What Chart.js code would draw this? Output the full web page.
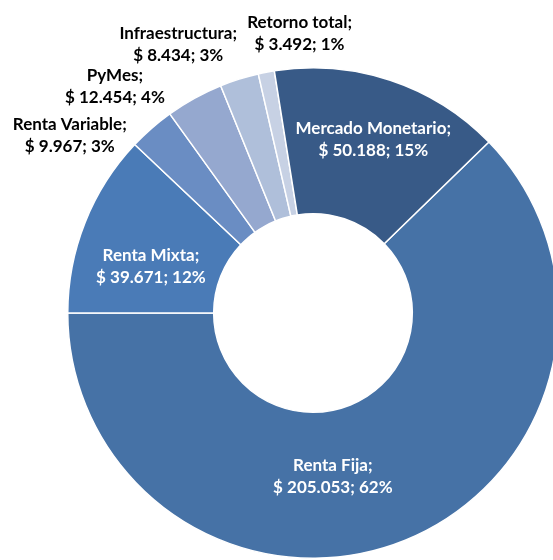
<!DOCTYPE html>
<html lang="es">
<head>
    <meta charset="UTF-8">
    <title>Fondos</title>
    <style>
        html, body { margin: 0; padding: 0; overflow: hidden; background: #fff; }
        #wrap { position: absolute; left: 0; top: 0; width: 626px; height: 626px; }
    </style>
</head>
<body>
    <div id="wrap"><canvas id="myChart" width="626" height="626"></canvas></div>
    <script src="https://cdn.jsdelivr.net/npm/chart.js"></script>
    <script>
        const categorias = ['Renta Fija', 'Renta Mixta', 'Renta Variable', 'PyMes', 'Infraestructura', 'Retorno total', 'Mercado Monetario']
        const montos = [205053, 39671, 9967, 12454, 8434, 3492, 50188]
        const etiquetasMonto = ['$ 205.053', '$ 39.671', '$ 9.967', '$ 12.454', '$ 8.434', '$ 3.492', '$ 50.188']
        const colores = ['#4672a6', '#4a7bb7', '#6a8dc3', '#95a8cf', '#afbfda', '#c7d1e4', '#385a87']

        // label placement: inside (mid radius) or outside, plus a small nudge in px
        const afuera = [false, false, true, true, true, true, false]
        const nudgeX = [-45, -2, -62, -65, -52, 39, 6]
        const nudgeY = [4, 17, 30, 14, -6, -9, -10]

        const total = montos.reduce((a, b) => a + b, 0)

        const etiquetas = {
            id: 'etiquetas',
            afterDatasetsDraw(chart) {
                const ctx = chart.ctx
                const arcs = chart.getDatasetMeta(0).data
                ctx.save()
                ctx.font = 'bold 17px Lato, "DejaVu Sans", sans-serif'
                ctx.textAlign = 'center'
                ctx.textBaseline = 'middle'
                arcs.forEach((arc, i) => {
                    const p = arc.getProps(['x', 'y', 'startAngle', 'endAngle', 'innerRadius', 'outerRadius'], true)
                    const mid = (p.startAngle + p.endAngle) / 2
                    const r = afuera[i] ? p.outerRadius + 30 : (p.innerRadius + p.outerRadius) / 2
                    const x = p.x + Math.cos(mid) * r + nudgeX[i]
                    const y = p.y + Math.sin(mid) * r + nudgeY[i]
                    const pct = Math.round(montos[i] / total * 100)
                    ctx.fillStyle = afuera[i] ? '#000000' : '#ffffff'
                    ctx.fillText(categorias[i] + ';', x, y - 11)
                    ctx.fillText(etiquetasMonto[i] + '; ' + pct + '%', x, y + 11)
                })
                ctx.restore()
            }
        }

        const ctx = document.getElementById('myChart')
        const myChart = new Chart(ctx, {
            type: 'doughnut',
            data: {
                labels: categorias,
                datasets: [{
                    data: montos,
                    backgroundColor: colores,
                    borderColor: '#ffffff',
                    borderWidth: 1.5
                }]
            },
            options: {
                responsive: false,
                animation: false,
                cutout: '40.5%',
                rotation: 45.8,
                layout: { padding: 67 },
                plugins: {
                    legend: { display: false },
                    tooltip: { enabled: false }
                }
            },
            plugins: [etiquetas]
        })
    </script>
</body>
</html>
